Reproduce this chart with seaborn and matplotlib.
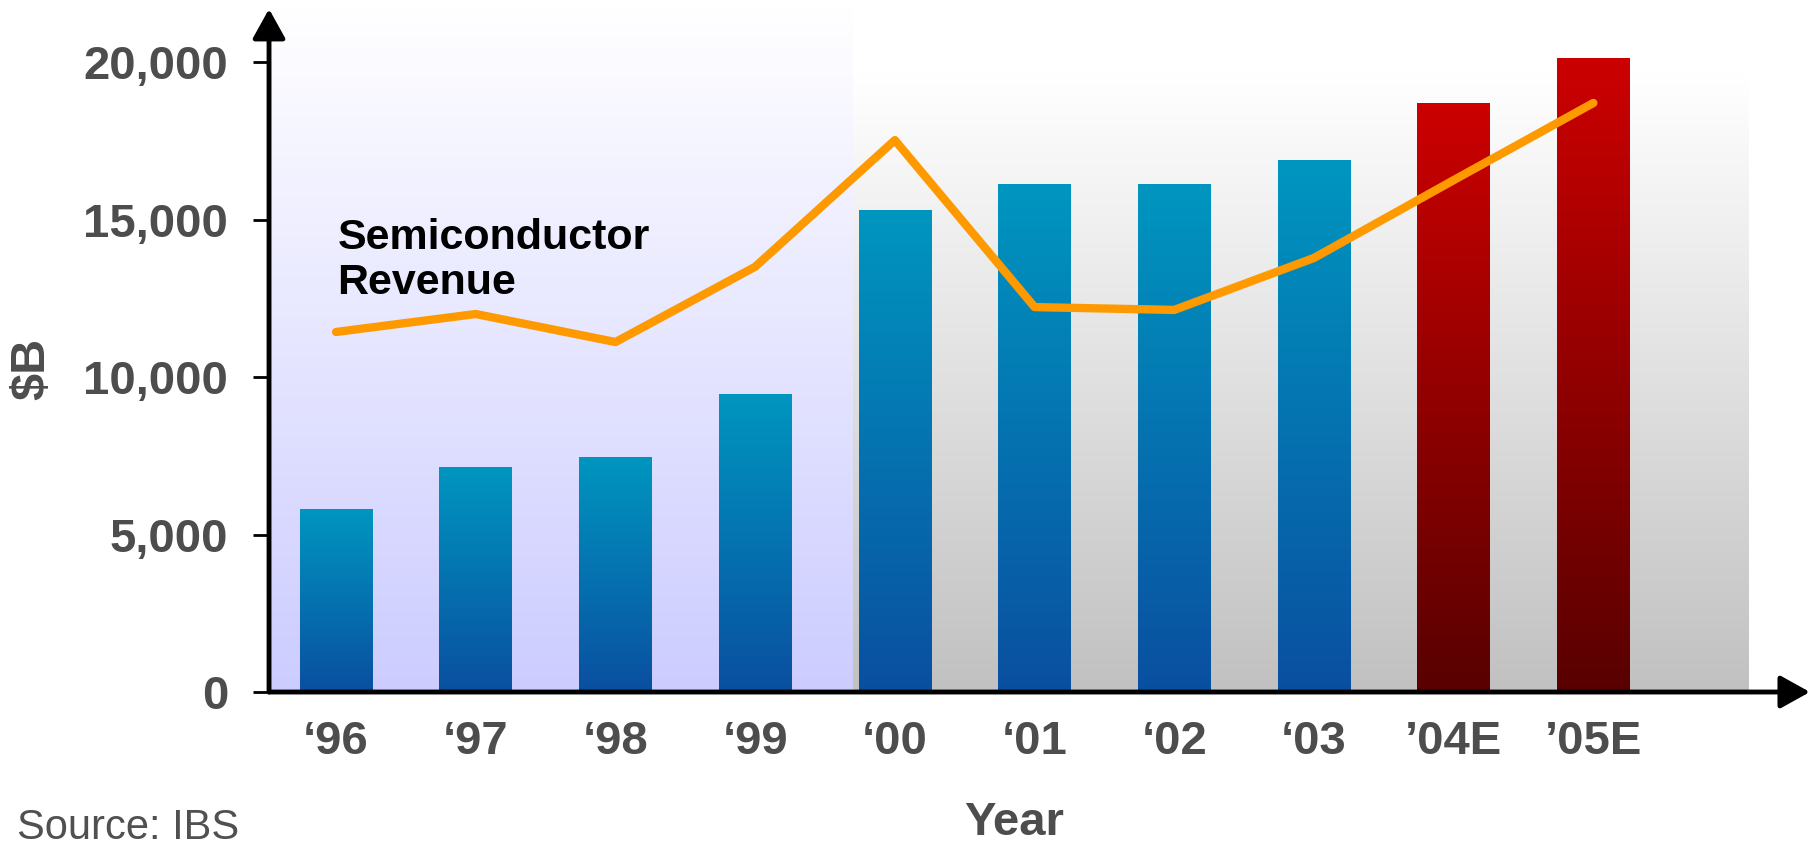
import numpy as np
import pandas as pd
import matplotlib
matplotlib.use('Agg')
import matplotlib.pyplot as plt
import seaborn as sns
from matplotlib.colors import LinearSegmentedColormap

# data
years = ['‘96', '‘97', '‘98', '‘99', '‘00', '‘01', '‘02', '‘03', '’04E', '’05E']
chip_values = [5780, 7140, 7430, 9430, 15300, 16100, 16100, 16860, 18670, 20100]
revenue = [11430, 12000, 11110, 13500, 17520, 12220, 12130, 13780, 16250, 18700]
kind = ['actual'] * 8 + ['estimate'] * 2
y_ticks = [0, 5000, 10000, 15000, 20000]
y_tick_labels = ['0', '5,000', '10,000', '15,000', '20,000']

blue_top, blue_bottom = '#0096C0', '#0A4FA0'
red_top, red_bottom = '#CC0000', '#580000'
gray_txt = '#4D4D4D'

sns.set_theme(style='white')
plt.rcParams['font.family'] = ['Liberation Sans', 'DejaVu Sans']

fig = plt.figure(figsize=(18.19, 8.49), dpi=100)
ax = fig.add_axes([0.1479, 0.1849, 0.8471, 0.8045])

xmin, xmax = -0.48, 10.55
ymin, ymax = 0, 21683


def gradient(ax, extent, c_top, c_bottom, z):
    cmap = LinearSegmentedColormap.from_list('g', [c_bottom, c_top])
    grad = np.linspace(0, 1, 256)[:, None]
    ax.imshow(grad, extent=extent, origin='lower', aspect='auto', cmap=cmap,
              zorder=z, interpolation='bicubic')


# backgrounds
gradient(ax, [xmin, 3.70, 0, ymax], '#FFFFFF', '#CCCCFF', 0)
gradient(ax, [3.70, 10.11, -250, 19600], '#FFFFFF', '#C0C0C0', 0)

df = pd.DataFrame({'year': years, 'chip': chip_values, 'kind': kind})
sns.barplot(data=df, x='year', y='chip', hue='kind', dodge=False, width=0.52,
            palette={'actual': blue_top, 'estimate': red_top}, legend=False,
            ax=ax, zorder=2)

# vertical gradient inside each bar
for bar, k in zip(list(ax.patches), kind):
    x0, w, h = bar.get_x(), bar.get_width(), bar.get_height()
    if k == 'actual':
        gradient(ax, [x0, x0 + w, 0, h], blue_top, blue_bottom, 2)
    else:
        gradient(ax, [x0, x0 + w, 0, h], red_top, red_bottom, 2)
    bar.set_alpha(0)

sns.lineplot(x=np.arange(len(years)), y=revenue, color='#FF9900', linewidth=6,
             ax=ax, zorder=3)

ax.text(0.01, 15050, 'Semiconductor\nRevenue', fontsize=31, fontweight='bold',
        color='black', ha='left', va='top', linespacing=1.15, zorder=5)

ax.set_xlim(xmin, xmax)
ax.set_ylim(ymin, ymax)
ax.set_xticks(range(len(years)), years, fontweight='bold')
ax.set_yticks(y_ticks, y_tick_labels, fontweight='bold')
ax.tick_params(axis='x', length=0, pad=20, labelsize=34, labelcolor=gray_txt)
ax.tick_params(axis='y', left=True, length=11.5, width=2, color='black', pad=18,
               labelsize=34, labelcolor=gray_txt)
ax.set_xlabel('')
ax.set_ylabel('')
for s in ax.spines.values():
    s.set_visible(False)
ax.set_facecolor('white')

# axis arrows
arrow = dict(arrowstyle='-|>,head_length=0.9,head_width=0.5', lw=3.5, color='black',
             mutation_scale=20, shrinkA=0, shrinkB=0)
ax.annotate('', xy=(0, 1), xytext=(0, 0), xycoords='axes fraction',
            arrowprops=arrow, annotation_clip=False, zorder=6)
ax.annotate('', xy=(1, 0), xytext=(0, 0), xycoords='axes fraction',
            arrowprops=arrow, annotation_clip=False, zorder=6)

fig.text(0.0176, 0.5654, '$B', rotation=90, fontsize=35, fontweight='bold',
         color=gray_txt, ha='center', va='center')
fig.text(0.5574, 0.0165, 'Year', fontsize=34, fontweight='bold', color=gray_txt,
         ha='center', va='baseline')
fig.text(0.0093, 0.0115, 'Source: IBS', fontsize=30, color='#505050',
         ha='left', va='baseline')

fig.savefig('out.png', dpi=100)
